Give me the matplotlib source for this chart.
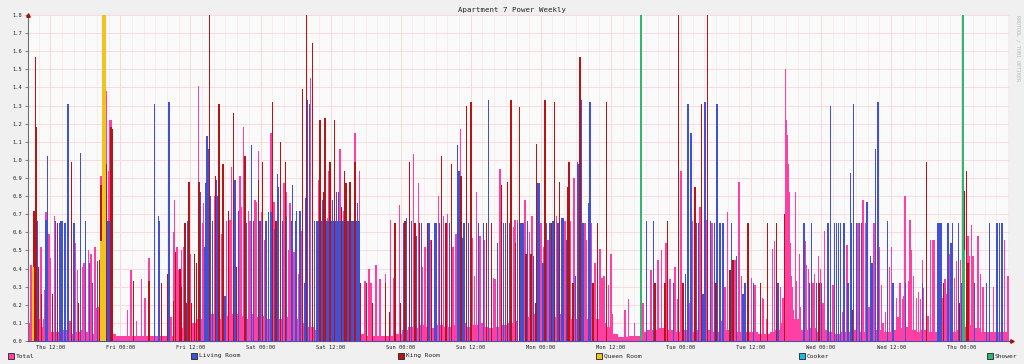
import matplotlib
matplotlib.use('Agg')
import matplotlib.pyplot as plt
from matplotlib.patches import Rectangle

# hours since start of window (Thu ~08:10), values in kW
total_floor = [
    0.10, 0.12, 0.08, 0.06, 0.05, 0.05, 0.06, 0.04, 0.05, 0.06, 0.05, 0.04,
    0.05, 0.05, 0.04, 0.03, 0.03, 0.03, 0.03, 0.03, 0.03, 0.03, 0.03, 0.03,
    0.03, 0.06, 0.07, 0.08, 0.10, 0.12, 0.14, 0.15, 0.12, 0.16, 0.14, 0.15,
    0.14, 0.12, 0.15, 0.13, 0.14, 0.12, 0.10, 0.12, 0.13, 0.11, 0.12, 0.10,
    0.08, 0.06, 0.05, 0.05, 0.05, 0.05, 0.05, 0.05, 0.05, 0.04, 0.03, 0.03,
    0.03, 0.03, 0.03, 0.04, 0.06, 0.08, 0.07, 0.09, 0.08, 0.07, 0.09, 0.08,
    0.08, 0.09, 0.10, 0.08, 0.09, 0.10, 0.08, 0.07, 0.08, 0.09, 0.10, 0.11,
    0.12, 0.13, 0.15, 0.12, 0.14, 0.12, 0.13, 0.15, 0.14, 0.12, 0.13, 0.12,
    0.14, 0.12, 0.10, 0.08, 0.04, 0.02, 0.02, 0.03, 0.03, 0.05, 0.06, 0.06,
    0.07, 0.06, 0.06, 0.05, 0.06, 0.05, 0.06, 0.05, 0.06, 0.05, 0.05, 0.06,
    0.06, 0.05, 0.05, 0.05, 0.05, 0.04, 0.04, 0.05, 0.06, 0.10, 0.30, 0.12,
    0.06, 0.06, 0.07, 0.05, 0.06, 0.05, 0.04, 0.05, 0.05, 0.06, 0.05, 0.05,
    0.05, 0.06, 0.05, 0.05, 0.06, 0.07, 0.08, 0.06, 0.05, 0.06, 0.05, 0.05,
    0.05, 0.06, 0.05, 0.06, 0.08, 0.09, 0.07, 0.05, 0.05, 0.05, 0.05, 0.05,
]

total_spikes = [
    (0.1, 0.51), (0.52, 0.42), (0.75, 0.25), (1.03, 0.71), (2.23, 0.52), (2.74, 0.12),
    (2.92, 0.28), (3.09, 0.71), (3.6, 0.59), (3.77, 0.46), (4.51, 0.69), (5.03, 0.59),
    (6.74, 0.24), (7.2, 0.11), (7.48, 0.65), (8.17, 0.54), (8.45, 0.39), (9.31, 0.41),
    (9.6, 0.43), (10.34, 0.50), (10.8, 0.48), (11.37, 0.36), (11.48, 0.52), (11.65, 0.18),
    (12.17, 0.19), (12.5, 0.91), (12.96, 1.26), (13.48, 1.38), (13.77, 0.94), (14.05, 1.22),
    (14.22, 1.22), (17.08, 0.17), (17.65, 0.39), (18.62, 0.11), (19.48, 0.34), (20.05, 0.24),
    (20.73, 0.46), (21.65, 0.43), (24.5, 0.13), (24.9, 0.60), (25.07, 0.78), (25.53, 0.52),
    (25.87, 0.39), (26.33, 0.50), (26.67, 0.52), (27.87, 0.48), (29.18, 1.41), (29.87, 0.65),
    (30.04, 0.76), (31.92, 0.80), (33.18, 0.59), (34.04, 0.66), (34.61, 0.67), (34.89, 0.96),
    (36.32, 0.91), (36.49, 0.74), (36.89, 1.18), (37.75, 0.72), (38.03, 0.66), (38.89, 0.78),
    (39.17, 0.77), (39.46, 1.05), (40.03, 0.71), (40.49, 0.56), (41.63, 1.15), (42.09, 0.77),
    (42.17, 0.77), (43.83, 0.87), (44.29, 0.82), (44.57, 0.50), (44.86, 0.76), (45.54, 0.49),
    (46.28, 0.37), (46.85, 0.61), (48.4, 1.45), (49.82, 0.89), (51.25, 0.68), (51.54, 0.94),
    (53.42, 1.06), (54.0, 0.72), (54.9, 0.66), (55.42, 0.65), (56.0, 1.15), (56.73, 0.94),
    (57.7, 0.33), (58.39, 0.40), (58.73, 0.32), (59.59, 0.42), (60.27, 0.34), (61.24, 0.37),
    (62.1, 0.67), (62.56, 0.35), (63.58, 0.75), (64.27, 0.65), (65.98, 1.03), (66.84, 0.87),
    (67.58, 0.41), (67.98, 0.52), (68.95, 0.56), (70.26, 0.80), (71.12, 0.69), (71.86, 0.70),
    (72.78, 0.52), (73.29, 0.59), (74.03, 1.17), (76.15, 0.57), (76.49, 0.36), (76.83, 0.82),
    (77.4, 0.58), (78.2, 0.56), (79.69, 0.35), (79.97, 0.34), (80.83, 0.95), (83.11, 0.63),
    (83.4, 0.67), (83.48, 0.22), (83.83, 0.67), (85.08, 0.78), (85.88, 0.60), (86.34, 0.69),
    (87.82, 0.65), (88.39, 0.52), (89.08, 0.56), (90.51, 0.69), (91.93, 0.66), (92.9, 0.66),
    (93.53, 0.90), (95.36, 0.65), (95.65, 0.56), (96.5, 0.65), (97.07, 0.43), (97.93, 0.51),
    (98.33, 0.35), (98.67, 0.36), (99.41, 0.31), (99.81, 0.48), (100.1, 0.15), (102.2, 0.17),
    (102.8, 0.23), (103.9, 0.10), (105.35, 0.21), (106.67, 0.39), (106.78, 0.23), (107.92, 0.45),
    (108.5, 0.50), (109.24, 0.54), (109.52, 0.60), (109.92, 0.34), (110.78, 0.41), (111.24, 0.23),
    (111.8, 0.94), (113.35, 0.21), (113.8, 0.66), (115.12, 0.74), (116.2, 0.67), (117.17, 0.65),
    (118.77, 0.11), (119.34, 0.30), (119.8, 0.71), (121.06, 0.45), (121.74, 0.88), (122.2, 0.36),
    (123.91, 0.35), (124.48, 0.31), (125.91, 0.23), (125.76, 0.24), (126.44, 0.12), (127.47, 0.51),
    (127.87, 0.55), (128.84, 0.30), (129.3, 0.24), (129.53, 0.70), (129.75, 1.50), (129.87, 1.22),
    (130.1, 1.14), (130.21, 0.98), (130.32, 0.82), (130.55, 0.54), (130.72, 0.36), (131.01, 0.17),
    (131.41, 0.82), (131.58, 0.33), (132.15, 0.48), (132.32, 0.19), (133.07, 0.55), (133.29, 0.42),
    (133.64, 0.40), (134.44, 0.32), (134.72, 0.37), (135.35, 0.47), (135.75, 0.40), (136.15, 0.21),
    (136.43, 0.61), (137.86, 0.31), (139.46, 0.16), (140.26, 0.53), (142.14, 0.65), (143.0, 0.78),
    (143.46, 0.65), (144.03, 0.19), (144.89, 0.65), (145.86, 0.52), (146.2, 0.31), (146.43, 0.10),
    (146.83, 0.16), (147.57, 0.41), (147.85, 0.52), (148.71, 0.24), (149.0, 0.13), (149.34, 0.32),
    (149.74, 0.23), (150.02, 0.25), (150.2, 0.80), (150.77, 0.33), (151.05, 0.67), (151.28, 0.50),
    (151.68, 0.36), (152.14, 0.24), (152.54, 0.27), (152.88, 0.23), (153.16, 0.45), (153.39, 0.29),
    (154.14, 0.14), (154.54, 0.56), (154.99, 0.56), (155.28, 0.56), (156.59, 0.24), (157.05, 0.34),
    (157.28, 0.26), (157.85, 0.48), (158.7, 0.35), (158.99, 0.44), (159.73, 0.45), (160.99, 0.58),
    (161.27, 0.47), (161.56, 0.64), (161.84, 0.47), (162.7, 0.58), (163.1, 0.37), (163.56, 0.30),
    (165.38, 0.30), (167.27, 0.56), (167.84, 0.36),
]

living_blocks = [(12.9, 14.5, 0.66), (49.4, 56.9, 0.66)]

living_spikes = [
    (1.37, 0.94), (1.6, 0.66), (3.09, 0.67), (3.32, 1.02), (4.74, 0.66), (5.37, 0.65),
    (5.66, 0.66), (5.89, 0.66), (6.34, 0.65), (6.85, 1.31), (7.88, 0.65), (9.03, 1.04),
    (9.83, 0.66), (10.51, 0.43), (11.02, 0.32), (11.94, 0.44), (13.31, 0.69), (14.45, 0.51),
    (21.65, 1.31), (22.33, 0.69), (22.5, 0.66), (24.16, 1.32), (27.35, 0.66), (29.3, 0.83),
    (29.58, 0.82), (30.21, 0.52), (30.44, 0.87), (30.67, 1.13), (30.84, 1.06), (31.24, 0.80),
    (31.58, 0.66), (32.21, 0.89), (32.5, 0.80), (33.75, 0.25), (35.18, 1.05), (35.46, 0.89),
    (36.03, 0.72), (37.46, 0.65), (38.32, 1.08), (38.6, 0.66), (39.75, 0.66), (40.72, 0.66),
    (41.17, 0.71), (41.6, 0.71), (42.17, 0.62), (42.69, 0.92), (42.86, 0.85), (43.6, 0.66),
    (44.29, 0.69), (45.14, 0.66), (45.31, 0.86), (45.77, 0.66), (46.0, 0.72), (46.57, 0.72),
    (47.31, 0.32), (47.54, 0.79), (47.83, 1.33), (48.17, 1.31), (48.68, 1.31), (49.02, 0.66),
    (50.45, 0.78), (52.11, 0.78), (52.85, 0.82), (53.19, 0.82), (56.39, 0.76), (64.27, 0.65),
    (64.84, 0.68), (65.7, 0.66), (66.55, 0.58), (67.41, 0.65), (68.67, 0.65), (69.69, 0.65),
    (69.98, 0.65), (70.44, 0.65), (72.15, 0.65), (73.58, 1.08), (73.81, 0.94), (74.38, 0.57),
    (74.66, 0.65), (75.41, 0.65), (77.17, 0.65), (77.97, 0.65), (78.83, 1.33), (80.43, 0.54),
    (81.4, 0.65), (81.74, 0.65), (82.43, 0.65), (83.8, 0.65), (83.83, 0.47), (84.17, 0.95),
    (84.4, 0.65), (84.8, 0.65), (85.54, 0.66), (86.57, 0.47), (87.37, 0.87), (87.6, 0.87),
    (88.17, 0.43), (88.79, 0.65), (89.37, 0.65), (89.94, 0.66), (90.79, 0.65), (91.36, 0.68),
    (91.59, 0.68), (92.22, 0.56), (93.76, 0.36), (94.1, 0.99), (94.33, 0.98), (94.73, 1.33),
    (95.08, 0.65), (96.05, 0.76), (96.27, 1.32), (105.92, 0.66), (107.12, 0.66), (110.5, 0.32),
    (111.41, 1.31), (112.6, 0.37), (113.06, 1.31), (113.52, 1.15), (114.49, 0.65), (114.78, 0.65),
    (115.63, 0.26), (115.92, 1.32), (116.89, 0.66), (117.52, 0.65), (118.03, 1.31), (118.49, 0.65),
    (119.06, 0.65), (120.49, 0.65), (121.34, 0.47), (122.48, 0.26), (122.77, 0.32), (124.2, 0.32),
    (126.61, 0.65), (128.44, 0.32), (132.89, 0.65), (133.81, 0.32), (134.15, 0.65), (135.01, 0.32),
    (135.92, 0.32), (137.01, 0.65), (137.46, 1.30), (138.15, 0.65), (138.43, 0.65), (138.78, 0.65),
    (139.18, 0.65), (139.75, 0.65), (140.43, 0.32), (140.83, 0.93), (141.0, 0.65), (141.4, 1.31),
    (141.86, 0.65), (142.43, 0.65), (142.72, 0.65), (143.69, 0.77), (144.26, 0.47), (144.54, 0.43),
    (145.17, 1.06), (145.57, 1.32), (147.17, 0.66), (148.14, 0.32), (150.31, 0.32), (153.16, 0.32),
    (155.85, 0.65), (156.19, 0.65), (156.42, 0.65), (157.56, 0.65), (158.08, 0.54), (158.3, 0.65),
    (159.39, 0.65), (159.96, 0.32), (160.25, 0.84), (162.13, 0.32), (164.13, 0.32), (164.7, 0.65),
    (165.84, 0.65), (166.07, 0.65), (166.41, 0.65), (166.81, 0.65),
]

king_spikes = [
    (1.03, 0.72), (1.32, 1.57), (1.43, 1.18), (1.77, 0.41), (2.34, 0.26), (4.17, 0.26),
    (5.03, 0.65), (7.48, 0.99), (8.63, 0.21), (12.34, 0.45), (12.51, 0.86), (13.02, 1.28),
    (13.31, 1.15), (13.48, 0.98), (14.22, 1.18), (14.45, 1.17), (18.05, 0.33), (20.73, 0.33),
    (22.9, 0.32), (23.87, 0.37), (24.9, 0.22), (25.3, 0.49), (26.04, 0.40), (26.33, 0.30),
    (26.9, 0.65), (27.13, 0.21), (27.58, 0.88), (28.04, 0.21), (28.5, 0.48), (28.9, 0.43),
    (29.3, 0.88), (31.07, 1.80), (32.09, 0.91), (32.72, 1.31), (33.41, 0.98), (34.32, 0.72),
    (35.18, 1.26), (35.75, 0.41), (37.18, 1.02), (39.46, 0.89), (40.2, 0.99), (41.86, 1.32),
    (41.89, 1.32), (42.46, 0.66), (43.26, 1.10), (44.06, 0.99), (47.03, 1.39), (47.71, 1.80),
    (48.68, 1.645), (49.99, 1.22), (50.68, 0.82), (50.85, 1.23), (51.71, 0.99), (52.45, 1.22),
    (53.65, 0.74), (54.22, 0.94), (54.45, 0.87), (55.13, 0.88), (55.99, 0.99), (56.96, 0.32),
    (57.99, 0.32), (59.02, 0.21), (61.24, 0.32), (61.87, 0.16), (62.84, 0.65), (63.81, 0.21),
    (64.56, 0.66), (65.3, 0.99), (66.27, 0.65), (67.01, 0.65), (68.38, 0.65), (69.12, 0.56),
    (70.84, 1.02), (71.58, 0.65), (72.55, 0.98), (74.15, 0.91), (75.06, 1.30), (75.86, 1.32),
    (78.55, 0.65), (79.34, 0.65), (81.06, 0.86), (82.08, 0.88), (82.71, 1.33), (84.14, 1.29),
    (83.48, 0.54), (85.31, 0.48), (86.11, 0.48), (86.91, 0.21), (87.08, 1.09), (88.57, 1.33),
    (89.65, 0.65), (90.17, 1.32), (91.02, 0.88), (92.51, 0.85), (92.68, 0.99), (93.36, 0.32),
    (94.56, 1.57), (96.79, 0.32), (97.53, 0.65), (99.07, 1.32), (107.35, 0.32), (109.07, 0.32),
    (109.52, 0.66), (111.41, 1.80), (112.2, 0.32), (114.2, 0.85), (115.35, 1.31), (116.37, 1.80),
    (117.8, 0.32), (120.2, 0.39), (120.77, 0.45), (123.34, 0.65), (125.45, 0.32), (125.47, 0.32),
    (126.61, 0.65), (128.16, 0.65), (129.53, 0.70), (135.46, 0.32), (141.17, 0.17), (153.85, 0.99),
    (156.82, 0.32), (159.56, 0.21), (160.42, 0.83), (160.7, 0.94), (160.99, 0.43),
]

queen_spikes = [(0.92, 0.41), (12.8, 1.80), (13.0, 1.80), (13.2, 1.80), (12.55, 0.55)]
cooker_spikes = []
shower_spikes = [(104.95, 1.80), (160.15, 1.80), (160.3, 0.50)]

xlabels = ['Thu 12:00', 'Fri 00:00', 'Fri 12:00', 'Sat 00:00', 'Sat 12:00', 'Sun 00:00',
           'Sun 12:00', 'Mon 00:00', 'Mon 12:00', 'Tue 00:00', 'Tue 12:00', 'Wed 00:00',
           'Wed 12:00', 'Thu 00:00']
first_label_hour = 3.82

c_total = '#ff3fa4'
c_living = '#3f52d6'
c_king = '#b81414'
c_queen = '#f2c21e'
c_cooker = '#18b8e8'
c_shower = '#2eb872'

plt.rcParams['font.family'] = 'DejaVu Sans Mono'

fig = plt.figure(figsize=(10.24, 3.64), dpi=100, facecolor='#f0f0f0')
ax = fig.add_axes([28/1024, 23/364, 981/1024, 326/364])
ax.set_facecolor('#fafafa')
ax.set_axisbelow(True)


def draw(spikes, color, width=0.25, z=3):
    if not spikes:
        return
    t = [s[0] for s in spikes]
    v = [s[1] for s in spikes]
    ax.bar(t, v, width=width, color=color, linewidth=0, zorder=z)


# total (pink) first, then the rooms on top
ax.bar([h + 0.5 for h in range(len(total_floor))], total_floor, width=1.0,
       color=c_total, linewidth=0, zorder=2)
draw(total_spikes, c_total, z=2)
for s, e, v in living_blocks:
    ax.bar(s, v, width=e - s, align='edge', color=c_living, linewidth=0, zorder=3)
draw(living_spikes, c_living, z=3)
draw(king_spikes, c_king, z=4)
draw(queen_spikes, c_queen, width=0.3, z=5)
draw(cooker_spikes, c_cooker, z=6)
draw(shower_spikes, c_shower, width=0.35, z=7)

ax.set_xlim(0, 168)
ax.set_ylim(0, 1.8)

xt = [first_label_hour + 12*i for i in range(len(xlabels))]
ax.set_xticks(xt)
ax.set_xticklabels(xlabels)
ax.set_xticks([first_label_hour - 2 + 2*i for i in range(85) if first_label_hour - 2 + 2*i < 168], minor=True)
yt = [i/10 for i in range(19)]
ax.set_yticks(yt)
ax.set_yticklabels(['%.1f' % y for y in yt])

ax.grid(which='major', axis='y', color='#f8d6d6', linewidth=0.6)
ax.grid(which='minor', axis='x', color='#f3e6e6', linewidth=0.5)
ax.grid(which='major', axis='x', color='#f6d4d4', linewidth=0.6)

ax.tick_params(axis='both', which='both', labelsize=3.9, colors='#222222', pad=2)
ax.tick_params(axis='x', which='both', length=0, pad=3)
ax.tick_params(axis='y', length=2, color='#888888')

for sp in ['top', 'right']:
    ax.spines[sp].set_visible(False)
ax.spines['left'].set_color('#707070')
ax.spines['bottom'].set_color('#5050a0')
ax.spines['left'].set_linewidth(0.8)
ax.spines['bottom'].set_linewidth(0.8)

# small arrow heads at axis ends
ax.plot([0], [1.0], marker='^', color='#a01010', markersize=2.5, transform=ax.transAxes, clip_on=False, zorder=10)
ax.plot([1.003], [0], marker='>', color='#a01010', markersize=2.5, transform=ax.transAxes, clip_on=False, zorder=10)

fig.text(0.5, 1 - 10/364, 'Apartment 7 Power Weekly', ha='center', va='center',
         fontsize=5.3, color='#222222')
fig.text(1018/1024, 1 - 15/364, 'RRDTOOL / TOBI OETIKER', ha='center', va='top',
         rotation=270, fontsize=3.6, color='#b8b8b8')

legend = [('Total', c_total, 8), ('Living Room', c_living, 191), ('King Room', c_king, 398),
          ('Queen Room', c_queen, 596), ('Cooker', c_cooker, 799), ('Shower', c_shower, 987)]
for name, col, px in legend:
    fig.patches.append(Rectangle((px/1024, 1 - 359/364), 5.5/1024, 6/364, transform=fig.transFigure,
                                 facecolor=col, edgecolor='#222222', linewidth=0.6))
    fig.text((px + 8)/1024, 1 - 356/364, name, ha='left', va='center', fontsize=4.5, color='#222222')

fig.savefig('out.png', dpi=100, facecolor=fig.get_facecolor())
